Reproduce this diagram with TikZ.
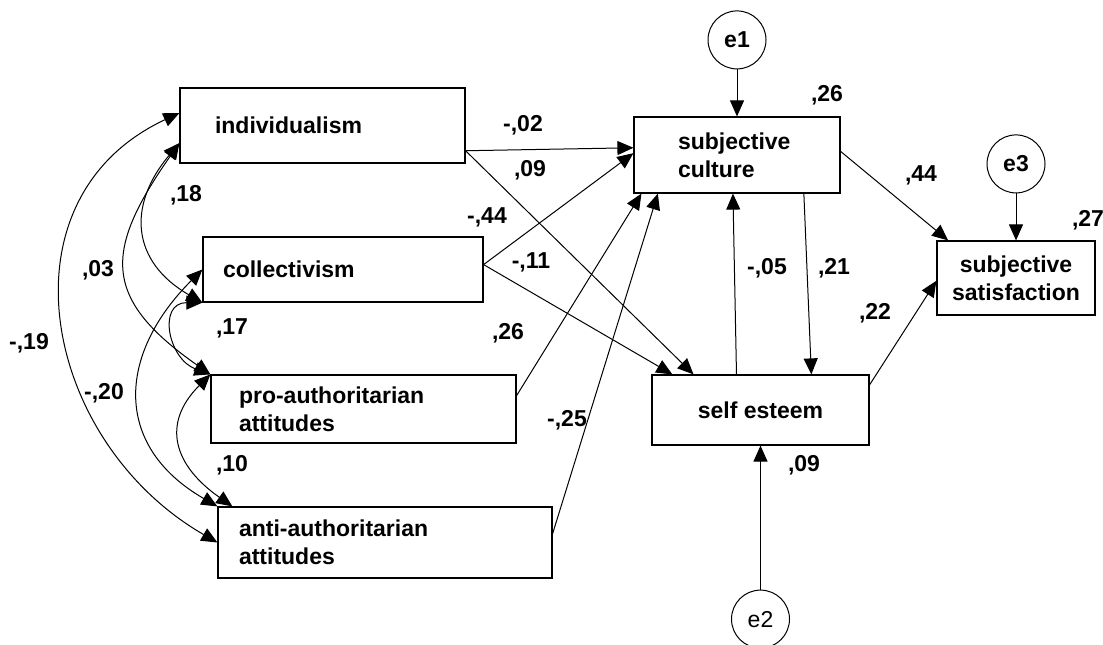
\documentclass[tikz,border=0pt]{standalone}
\usepackage{fontspec}
\setmainfont{Liberation Sans}
\usepackage{tikz}
\usetikzlibrary{arrows.meta,positioning,calc}
\newcommand{\semfont}{\bfseries\fontsize{11.5}{14}\selectfont}
\tikzset{
  varbox/.style={rectangle, draw, line width=0.6pt, align=left,
                 font=\semfont, inner ysep=0pt},
  errnode/.style={circle, draw, line width=0.5pt, minimum size=29pt,
                  inner sep=0pt, font=\semfont},
  regarr/.style={-{Triangle[length=8pt,width=7pt]}, line width=0.5pt},
  covarr/.style={{Triangle[length=8pt,width=7pt]}-{Triangle[length=8pt,width=7pt]},
                 line width=0.5pt},
  coef/.style={font=\semfont, inner sep=0pt},
}

\begin{document}
\begin{tikzpicture}[x=0.5pt, y=-0.5pt]
  \useasboundingbox (0,0) rectangle (1103,644);
  % exogenous variables
  \node[varbox, inner xsep=17.5pt, text width=107.5pt, minimum height=37.5pt] (ind) at (322.5,125.5) {individualism};
  \node[varbox, inner xsep=10pt, text width=120pt, minimum height=32.5pt] (col) at (343,269.5) {collectivism};
  \node[varbox, inner xsep=14pt, text width=124.5pt, minimum height=34pt] (pro) at (363.5,409) {pro-authoritarian\\attitudes};
  \node[varbox, inner xsep=10.5pt, text width=146pt, minimum height=35.5pt] (anti) at (385,542.5) {anti-authoritarian\\attitudes};
  % endogenous variables
  \node[varbox, inner xsep=22pt, text width=59pt, minimum height=38pt] (sc) at (737,155) {subjective\\culture};
  \node[varbox, align=center, minimum width=108.5pt, minimum height=35pt] (se) at (760.5,410) {self esteem};
  \node[varbox, align=center, minimum width=79pt, minimum height=37pt] (sat) at (1016,278) {subjective\\satisfaction};
  % residuals
  \node[errnode, above=23.5pt of sc] (e1) {e1};
  \node[errnode, above=23.5pt of sat] (e3) {e3};
  \node[errnode, below=72pt of se, font=\fontsize{11.5}{14}\selectfont] (e2) {e2};

  \draw[regarr] (e1) -- (sc);
  \draw[regarr] (e3) -- (sat);
  \draw[regarr] (e2) -- (se);

  % paths
  \draw[regarr] (ind.-10) -- (sc.176);
  \draw[regarr] (ind.-10) -- (se.152);
  \draw[regarr] (col.2) -- (sc.179);
  \draw[regarr] (col.2) -- (se.158);
  \draw[regarr] (pro.5) -- (sc.-158);
  \draw[regarr] (anti.3) -- (sc.-154);
  \draw[regarr] (se.124) -- (sc.-96);
  \draw[regarr] (sc.-30) -- (se.35);
  \draw[regarr] (sc.2) -- (sat.151);
  \draw[regarr] (se.13) -- (sat.-178);

  % covariances
  \draw[covarr] (ind.175) to[out=205, in=150, looseness=1.2] (anti.west);
  \draw[covarr] (col.west) to[out=225, in=150, looseness=1.3] (anti.north west);
  \draw[covarr] (ind.-173) to[out=230, in=150, looseness=1.3] (col.south west);
  \draw[covarr] (ind.-173) to[out=235, in=145, looseness=1.45] (pro.north west);
  \draw[covarr] (col.south west) to[out=180, in=160, looseness=1.6] (pro.north west);
  \draw[covarr] (pro.north west) to[out=225, in=145, looseness=1.35] ($(anti.north west)+(15,0)$);

  % estimates
  \node[coef] (b02) at (523,125) {-,02};
  \node[coef] (b09) at (530,170) {,09};
  \node[coef] (b44n) at (487,217) {-,44};
  \node[coef] (b11) at (531,262) {-,11};
  \node[coef] (b26) at (508,333) {,26};
  \node[coef] (b25) at (567,420) {-,25};
  \node[coef] (b05) at (767,268) {-,05};
  \node[coef] (b21) at (834,268) {,21};
  \node[coef] (b44) at (921,175) {,44};
  \node[coef] (b22) at (875,313) {,22};
  \node[coef] (r26) at (827,95) {,26};
  \node[coef] (r27) at (1088,220) {,27};
  \node[coef] (r09) at (804,465) {,09};
  \node[coef] (c18) at (186,195) {,18};
  \node[coef] (c03) at (98,270) {,03};
  \node[coef] (c19) at (29,343) {-,19};
  \node[coef] (c20) at (104,393) {-,20};
  \node[coef] (c17) at (232,328) {,17};
  \node[coef] (c10) at (232,465) {,10};
\end{tikzpicture}
\end{document}
